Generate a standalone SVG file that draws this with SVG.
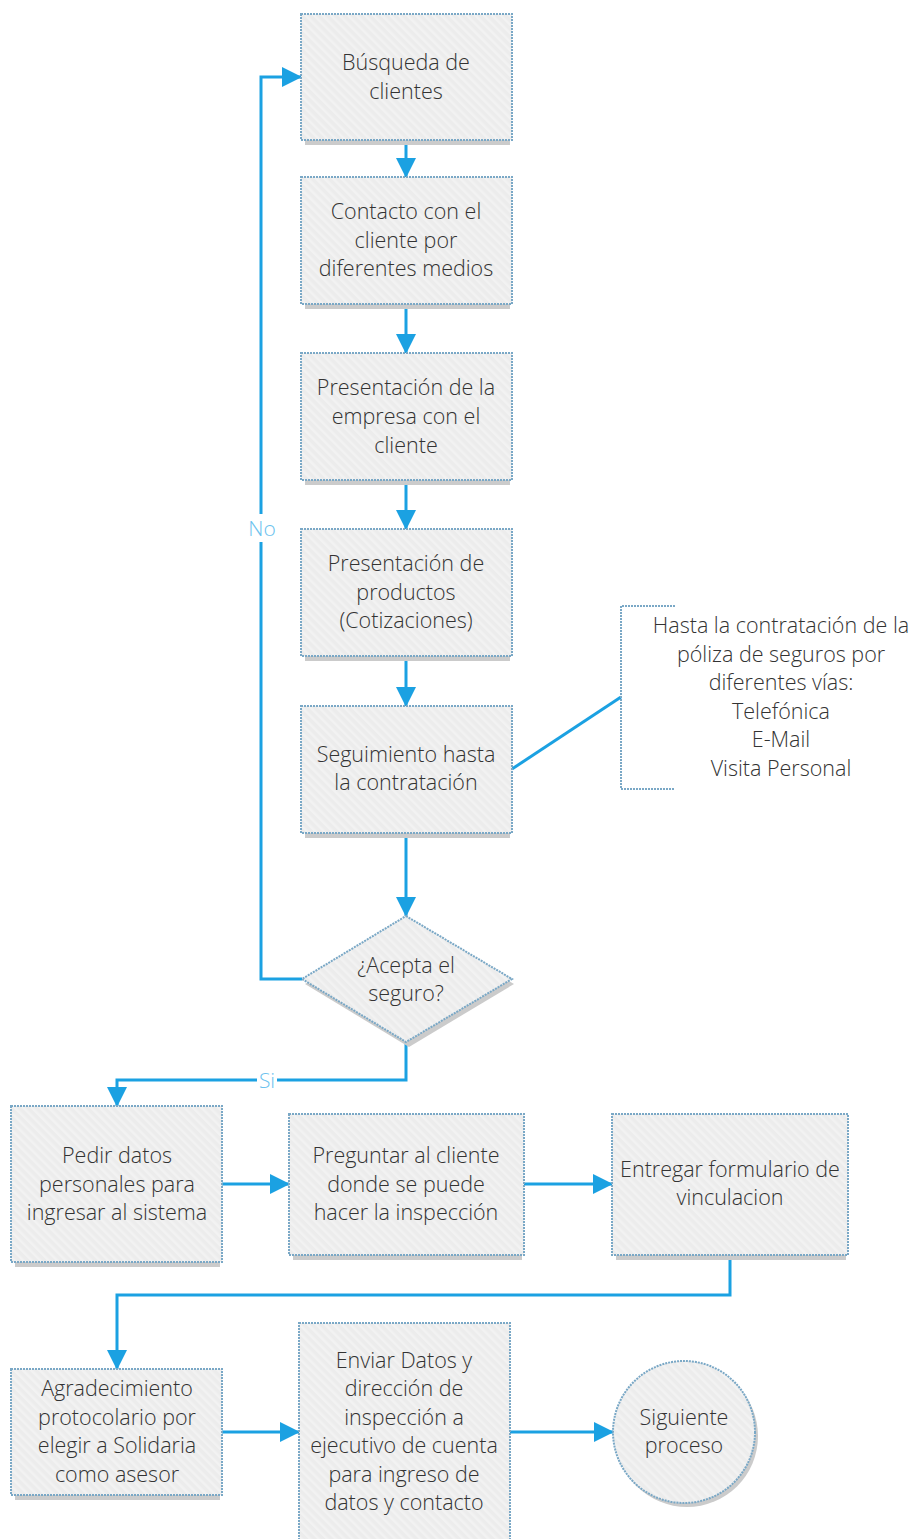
<svg xmlns="http://www.w3.org/2000/svg" width="916" height="1539" viewBox="0 0 916 1539">
  <defs>
    <pattern id="hatch" width="6" height="6" patternUnits="userSpaceOnUse" patternTransform="rotate(-45)">
      <rect width="6" height="6" fill="#ececec"/>
      <rect width="2.5" height="6" fill="#f2f2f2"/>
    </pattern>
    <marker id="arr" viewBox="0 0 20 20" refX="19" refY="10" markerWidth="20" markerHeight="20" markerUnits="userSpaceOnUse" orient="auto">
      <path d="M0,0 L20,10 L0,20 Z" fill="#1ba1e2"/>
    </marker>
    <style>
      .shadow { fill: #cbcbcb; }
      .box { fill: url(#hatch); stroke: #7aa8c6; stroke-width: 2; stroke-dasharray: 2 1; }
      .lbl { font-family: "Open Sans", "Liberation Sans", sans-serif; font-weight: 300; font-size: 21.5px; fill: #333333; text-anchor: middle; }
      .conn { fill: none; stroke: #1ba1e2; stroke-width: 3; }
      .tag { font-family: "Open Sans", "Liberation Sans", sans-serif; font-weight: 300; font-size: 21px; fill: #6cc2ee; text-anchor: middle; }
    </style>
  </defs>

  <!-- connectors -->
  <g id="connectors">
    <path class="conn" d="M406,140 V177" marker-end="url(#arr)"/>
    <path class="conn" d="M406,304 V353" marker-end="url(#arr)"/>
    <path class="conn" d="M406,480 V529" marker-end="url(#arr)"/>
    <path class="conn" d="M406,656 V706" marker-end="url(#arr)"/>
    <path class="conn" d="M406,833 V916" marker-end="url(#arr)"/>
    <path class="conn" d="M302,979 H261 V77 H301" marker-end="url(#arr)"/>
    <path class="conn" d="M406,1042 V1080 H117 V1106" marker-end="url(#arr)"/>
    <path class="conn" d="M222,1184 H289" marker-end="url(#arr)"/>
    <path class="conn" d="M524,1184 H612" marker-end="url(#arr)"/>
    <path class="conn" d="M730,1255 V1295 H117 V1369" marker-end="url(#arr)"/>
    <path class="conn" d="M222,1432 H299" marker-end="url(#arr)"/>
    <path class="conn" d="M510,1432 H613" marker-end="url(#arr)"/>
    <path class="conn" d="M512,769 L621,697"/>
    <rect x="245" y="514" width="34" height="28" fill="#ffffff"/>
    <text class="tag" x="262" y="536">No</text>
    <rect x="257" y="1068" width="20" height="24" fill="#ffffff"/>
    <text class="tag" x="267" y="1088">Si</text>
  </g>

  <g id="n-busqueda">
    <rect class="shadow" x="305" y="19" width="205" height="126"/>
    <rect class="box" x="301" y="14" width="211" height="126"/>
    <text class="lbl" x="406" y="70">Búsqueda de</text>
    <text class="lbl" x="406" y="99">clientes</text>
  </g>

  <g id="n-contacto">
    <rect class="shadow" x="305" y="182" width="205" height="127"/>
    <rect class="box" x="301" y="177" width="211" height="127"/>
    <text class="lbl" x="406" y="219">Contacto con el</text>
    <text class="lbl" x="406" y="248">cliente por</text>
    <text class="lbl" x="406" y="276">diferentes medios</text>
  </g>

  <g id="n-presentacion-empresa">
    <rect class="shadow" x="305" y="358" width="205" height="127"/>
    <rect class="box" x="301" y="353" width="211" height="127"/>
    <text class="lbl" x="406" y="395">Presentación de la</text>
    <text class="lbl" x="406" y="424">empresa con el</text>
    <text class="lbl" x="406" y="453">cliente</text>
  </g>

  <g id="n-presentacion-productos">
    <rect class="shadow" x="305" y="534" width="205" height="127"/>
    <rect class="box" x="301" y="529" width="211" height="127"/>
    <text class="lbl" x="406" y="571">Presentación de</text>
    <text class="lbl" x="406" y="600">productos</text>
    <text class="lbl" x="406" y="628">(Cotizaciones)</text>
  </g>

  <g id="n-seguimiento">
    <rect class="shadow" x="305" y="711" width="205" height="127"/>
    <rect class="box" x="301" y="706" width="211" height="127"/>
    <text class="lbl" x="406" y="762">Seguimiento hasta</text>
    <text class="lbl" x="406" y="790">la contratación</text>
  </g>

  <g id="n-nota">
    <path d="M675,606 H621 V789 H675" fill="none" stroke="#7aa8c6" stroke-width="2" stroke-dasharray="2 1"/>
    <text class="lbl" x="781" y="633">Hasta la contratación de la</text>
    <text class="lbl" x="781" y="662">póliza de seguros por</text>
    <text class="lbl" x="781" y="690">diferentes vías:</text>
    <text class="lbl" x="781" y="719">Telefónica</text>
    <text class="lbl" x="781" y="747">E-Mail</text>
    <text class="lbl" x="781" y="776">Visita Personal</text>
  </g>

  <g id="n-acepta">
    <polygon class="shadow" points="409,921 514,984 409,1047 305,984"/>
    <polygon class="box" points="406,916 512,979 406,1042 302,979"/>
    <text class="lbl" x="406" y="973">¿Acepta el</text>
    <text class="lbl" x="406" y="1001">seguro?</text>
  </g>

  <g id="n-pedir">
    <rect class="shadow" x="15" y="1111" width="205" height="156"/>
    <rect class="box" x="11" y="1106" width="211" height="156"/>
    <text class="lbl" x="117" y="1163">Pedir datos</text>
    <text class="lbl" x="117" y="1192">personales para</text>
    <text class="lbl" x="117" y="1220">ingresar al sistema</text>
  </g>

  <g id="n-preguntar">
    <rect class="shadow" x="293" y="1119" width="229" height="141"/>
    <rect class="box" x="289" y="1114" width="235" height="141"/>
    <text class="lbl" x="406" y="1163">Preguntar al cliente</text>
    <text class="lbl" x="406" y="1192">donde se puede</text>
    <text class="lbl" x="406" y="1220">hacer la inspección</text>
  </g>

  <g id="n-entregar">
    <rect class="shadow" x="616" y="1119" width="230" height="141"/>
    <rect class="box" x="612" y="1114" width="236" height="141"/>
    <text class="lbl" x="730" y="1177">Entregar formulario de</text>
    <text class="lbl" x="730" y="1205">vinculacion</text>
  </g>

  <g id="n-agradecimiento">
    <rect class="shadow" x="15" y="1374" width="205" height="126"/>
    <rect class="box" x="11" y="1369" width="211" height="126"/>
    <text class="lbl" x="117" y="1396">Agradecimiento</text>
    <text class="lbl" x="117" y="1425">protocolario por</text>
    <text class="lbl" x="117" y="1453">elegir a Solidaria</text>
    <text class="lbl" x="117" y="1482">como asesor</text>
  </g>

  <g id="n-enviar">
    <rect class="shadow" x="303" y="1328" width="205" height="220"/>
    <rect class="box" x="299" y="1323" width="211" height="220"/>
    <text class="lbl" x="404" y="1368">Enviar Datos y</text>
    <text class="lbl" x="404" y="1396">dirección de</text>
    <text class="lbl" x="404" y="1425">inspección  a</text>
    <text class="lbl" x="404" y="1453">ejecutivo de cuenta</text>
    <text class="lbl" x="404" y="1482">para ingreso de</text>
    <text class="lbl" x="404" y="1510">datos y contacto</text>
  </g>

  <g id="n-siguiente">
    <circle class="shadow" cx="687" cy="1436" r="71"/>
    <circle class="box" cx="684" cy="1432" r="71"/>
    <text class="lbl" x="684" y="1425">Siguiente</text>
    <text class="lbl" x="684" y="1453">proceso</text>
  </g>
</svg>
